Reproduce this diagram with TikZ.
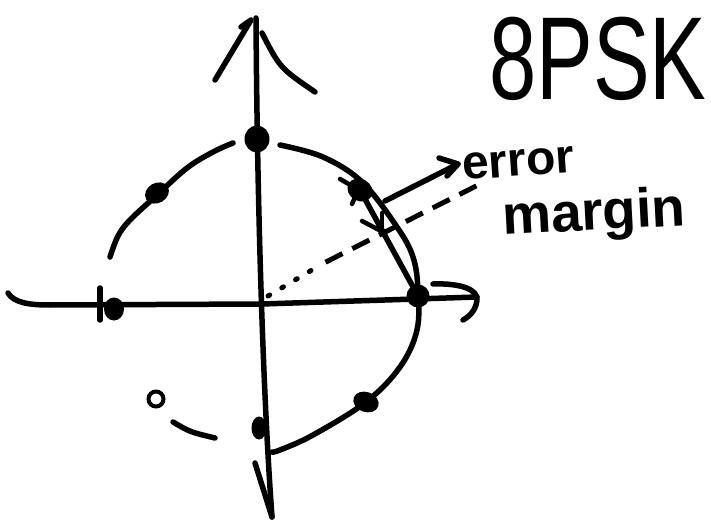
\documentclass[tikz,border=0pt]{standalone}
\usepackage{fontspec}
\setmainfont{Liberation Sans}
\usetikzlibrary{shapes.geometric}
\begin{document}
\begin{tikzpicture}[x=1pt,y=-1pt,
  pen/.style={line width=5.5pt,line cap=round,line join=round},
  thinpen/.style={line width=4.5pt,line cap=round,line join=round},
  blob/.style={ellipse,fill=black,inner sep=0pt},
  lbl/.style={anchor=base west,inner sep=0pt}]
\useasboundingbox (0,0) rectangle (711,526);

% ---- axes
\coordinate (ytop) at (256,18);
\coordinate (ybot) at (272,517);
\draw[pen] (ytop) .. controls (257,180) and (262,380) .. (ybot);
\draw[pen] (215,80) -- (251,20) -- (241,27);
\draw[pen] (262,33) .. controls (280,68) .. (315,92);
\draw[pen] (255,463) -- (ybot);

\coordinate (xl) at (8,293);
\coordinate (xr) at (477,297);
\draw[pen] (xl) .. controls (14,303) and (30,305) .. (50,305) -- (262,304) -- (xr);
\draw[pen] (433,284) .. controls (462,283) and (478,290) .. (477,300)
           .. controls (476,310) and (470,316) .. (463,320);
\draw[pen] (100,288) -- (100,320);

% ---- constellation points
\node[blob,minimum width=23pt,minimum height=23pt] (p0) at (418,296) {};
\node[blob,minimum width=26pt,minimum height=22pt,rotate=-30] (p1) at (360,190) {};
\node[blob,minimum width=25pt,minimum height=27pt] (p2) at (257,139) {};
\node[blob,minimum width=25pt,minimum height=20pt,rotate=30] (p3) at (157,193) {};
\node[blob,minimum width=20pt,minimum height=23pt] (p4) at (114,309) {};
\node[circle,draw,line width=4pt,inner sep=0pt,minimum size=15pt] (p5) at (156,399) {};
\node[blob,minimum width=15pt,minimum height=23pt] (p6) at (259,428) {};
\node[blob,minimum width=26pt,minimum height=20pt,rotate=-20] (p7) at (366,402) {};

% ---- circle arcs
\draw[pen] plot[smooth,tension=0.6] coordinates {(110,257) (118,236) (130,220) (157,195) (187,168) (213,152) (233,143)};
\draw[pen] plot[smooth,tension=0.6] coordinates {(280,145) (323,157) (362,182) (397,227) (413,257) (418,290) (417,330) (400,367) (366,402) (313,435) (280,450) (272,452)};
\draw[pen] (173,422) .. controls (190,432) .. (215,438);

% ---- decision boundary
\coordinate (o) at (268,296);
\coordinate (dm) at (322,264);
\coordinate (dend) at (484,182);
\draw[line width=5pt,line cap=round,dash pattern=on 2pt off 14pt] (o) -- (dm);
\draw[line width=5pt,dash pattern=on 19pt off 11pt,dash phase=-4pt] (dm) -- (dend);

% ---- error margin
\draw[pen] (p1.center) -- (p0.center);
\draw[thinpen] (362,221) -- (381,231);
\draw[thinpen] (382,213) -- (382,230);
\draw[thinpen] (340,179) -- (352,186);
\draw[thinpen] (352,204) -- (356,195);

\coordinate (ea) at (385,201);
\coordinate (eb) at (458,164);
\draw[pen] (ea) -- (eb);
\draw[pen] (439,158) -- (eb) -- (447,176);

% ---- labels
\node[lbl,font=\fontsize{48}{48}\selectfont\bfseries,rotate=4] (t1) at (463,180) {error};
\node[lbl,font=\fontsize{55}{55}\selectfont\bfseries,rotate=3] (t2) at (503,235) {margin};
\node[lbl,font=\fontsize{118}{118}\selectfont] (t3) at (489,100) {\scalebox{0.72}[1]{8PSK}};
\end{tikzpicture}
\end{document}
